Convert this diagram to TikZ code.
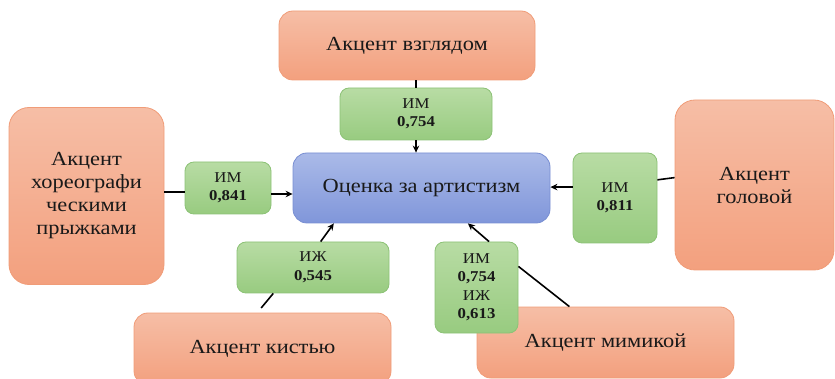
\documentclass[tikz,border=0pt]{standalone}
\usepackage{fontspec}
\setmainfont[FakeStretch=1.12]{Liberation Serif}
\usetikzlibrary{calc,arrows.meta}
\definecolor{orT}{RGB}{246,190,166}
\definecolor{orB}{RGB}{243,160,126}
\definecolor{orD}{RGB}{240,156,120}
\definecolor{blT}{RGB}{170,186,232}
\definecolor{blB}{RGB}{128,150,218}
\definecolor{blD}{RGB}{120,142,210}
\definecolor{grT}{RGB}{184,220,164}
\definecolor{grB}{RGB}{152,203,128}
\definecolor{grD}{RGB}{140,194,118}
\definecolor{txt}{RGB}{25,25,25}
\begin{document}
\begin{tikzpicture}[x=1pt,y=-1pt,
  box/.style={rounded corners=14pt, line width=0.8pt, align=center, inner sep=0pt, text=txt},
  orbox/.style={box, draw=orD, top color=orT, bottom color=orB, font=\fontsize{20}{23}\selectfont},
  blbox/.style={box, draw=blD, top color=blT, bottom color=blB, font=\fontsize{20}{23}\selectfont},
  grbox/.style={box, rounded corners=9pt, draw=grD, top color=grT, bottom color=grB, font=\fontsize{15}{18.5}\selectfont},
  conn/.style={line width=1.6pt, black},
  arr/.style={conn, -{Stealth[length=7pt,width=6.5pt]}}]
\useasboundingbox (0,0) rectangle (835,379);

\node[orbox, minimum width=256pt, minimum height=69pt] (gaze) at (407,45.5) {Акцент взглядом};
\node[grbox, minimum width=152pt, minimum height=52pt] (g1) at (416,114) {ИМ\\\textbf{0,754}};
\node[blbox, minimum width=257pt, minimum height=70pt] (blue) at (421.5,188) {Оценка за артистизм};
\node[orbox, rounded corners=20pt, minimum width=155pt, minimum height=177pt] (choreo) at (86.5,196) {Акцент\\хореографи\\ческими\\прыжками};
\node[grbox, minimum width=86pt, minimum height=52pt] (g2) at (228,188) {ИМ\\\textbf{0,841}};
\node[orbox, minimum width=257pt, minimum height=72pt] (hand) at (262.5,349) {Акцент кистью};
\node[grbox, minimum width=152pt, minimum height=51pt] (g3) at (313,267.5) {ИЖ\\\textbf{0,545}};
\node[orbox, minimum width=257pt, minimum height=71pt] (mimic) at (605.5,342.5) {Акцент мимикой};
\node[grbox, minimum width=83pt, minimum height=91pt] (g5) at (476.5,287.5) {ИМ\\\textbf{0,754}\\ИЖ\\\textbf{0,613}};
\node[orbox, rounded corners=20pt, minimum width=159pt, minimum height=170pt] (head) at (754.5,185) {Акцент\\головой};
\node[grbox, minimum width=84pt, minimum height=90pt] (g4) at (615,198) {ИМ\\\textbf{0,811}};

% top
\draw[conn] (gaze.south -| g1.north) -- (g1.north);
\draw[arr] (g1.south) -- (g1.south |- blue.north);
% left
\draw[conn] ($(choreo.east |- g2.west)+(0,4)$) -- ($(g2.west)+(0,4)$);
\draw[arr] ($(g2.east)+(0,6)$) -- ($(blue.west |- g2.east)+(0,6)$);
% right
\draw[conn] ($(head.west |- g4.north east)+(0,25)$) -- ($(g4.north east)!0.3!(g4.south east)$);
\draw[arr] ($(g4.north west)!0.38!(g4.south west)$) -- (blue.east |- {$(g4.north west)!0.38!(g4.south west)$});
% hand
\draw[conn, shorten <=6pt] ($(hand.north west)!0.48!(hand.north east)$) -- ($(g3.south west)!0.24!(g3.south east)$);
\draw[arr] ($(g3.north west)!0.55!(g3.north east)$) -- ($(blue.south west)!0.16!(blue.south east)$);
% mimic
\draw[conn] ($(mimic.north west)!0.36!(mimic.north east)$) -- ($(g5.north east)!0.27!(g5.south east)$);
\draw[arr] ($(g5.north west)!0.65!(g5.north east)$) -- ($(blue.south west)!0.68!(blue.south east)$);
\end{tikzpicture}
\end{document}
